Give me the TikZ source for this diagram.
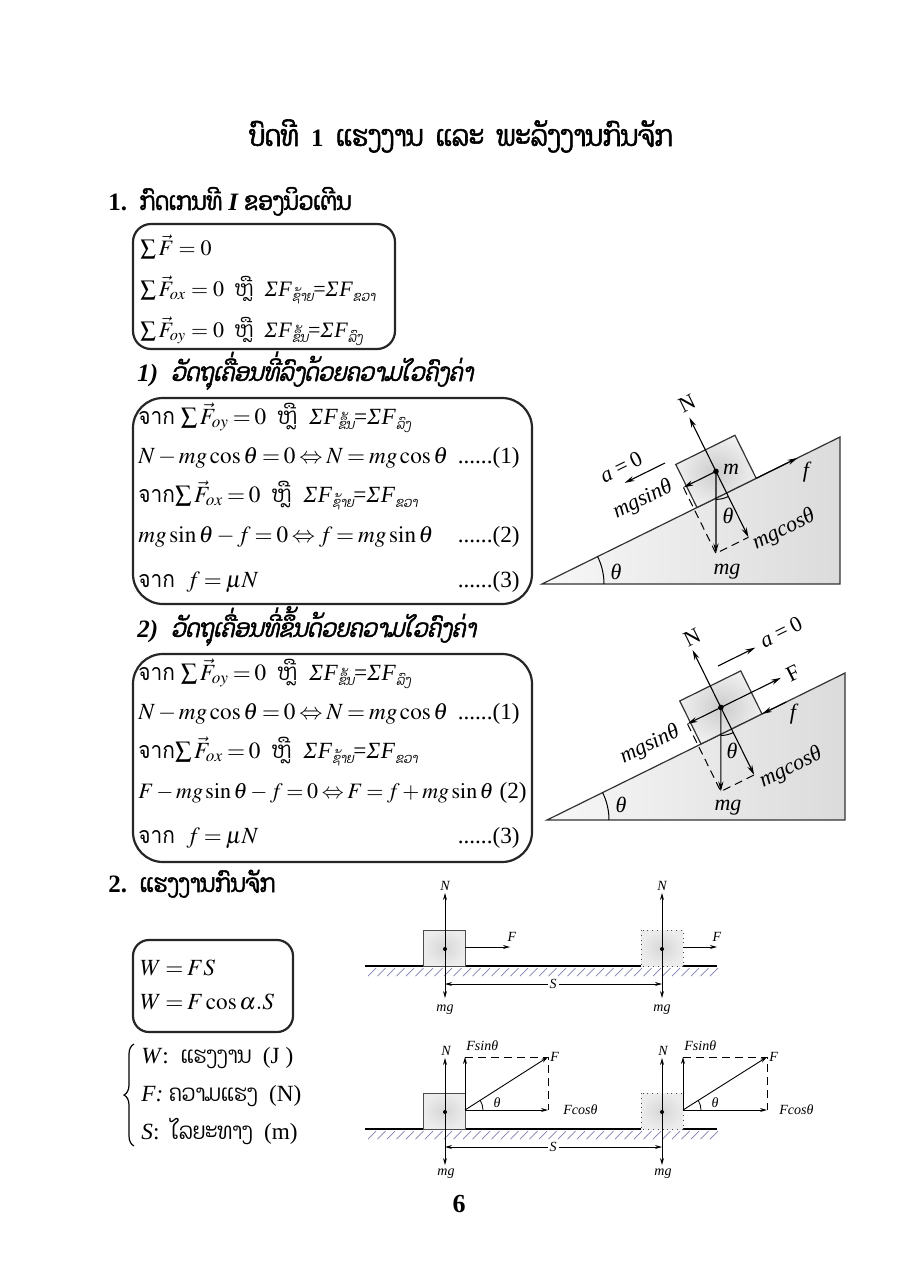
\documentclass[tikz,border=0pt]{standalone}
\usepackage{mathptmx}
\usepackage[no-math]{fontspec}
\setmainfont{Liberation Serif}
\newfontfamily\lao[Script=Lao,FakeStretch=0.86]{Dhyana}
\newfontfamily\laosl[Script=Lao,FakeSlant=0.2,FakeStretch=0.86]{Dhyana}
\newfontfamily\laob[Script=Lao,FakeBold=2,FakeStretch=0.85]{Dhyana}
\newfontfamily\laobi[Script=Lao,FakeSlant=0.22,FakeBold=2,FakeStretch=0.85]{Dhyana}
\newfontfamily\thai[Script=Thai,FakeStretch=0.9]{Loma}
\usetikzlibrary{arrows.meta,decorations.pathreplacing,shadings}
\newcommand\fs[1]{\fontsize{#1}{#1}\selectfont}
\newcommand\tightm{\thickmuskip=3mu plus 1mu\medmuskip=2.2mu plus 1mu}
\newcommand\LS[1]{\textit{Σ}\kern0.3pt\textit{F}\raisebox{-0.5ex}{\laosl\fs{7}#1}}
\tikzset{
  txt/.style={anchor=base west,inner sep=0pt,font=\fs{11.6}\tightm},
  txtr/.style={anchor=base east,inner sep=0pt,font=\fs{11.6}},
  bx/.style={draw=black!85,line width=1.1pt},
  va/.style={-{Stealth[length=5pt,width=2.6pt]},line width=0.55pt},
  vs/.style={-{Stealth[length=3.5pt,width=2pt]},line width=0.45pt},
  vsb/.style={{Stealth[length=3.5pt,width=2pt]}-{Stealth[length=3.5pt,width=2pt]},line width=0.45pt},
  dl/.style={font=\fs{11}\itshape,inner sep=0pt},
  sl/.style={font=\fs{7}\itshape,inner sep=0pt},
  dsh/.style={dash pattern=on 4pt off 2.5pt,line width=0.5pt},
  hat/.style={draw=blue!25!gray!80,line width=0.35pt},
  incl/.style={draw=black!80,line width=0.6pt,left color=gray!6,right color=gray!28},
  blk/.style={draw=black!80,line width=0.6pt,inner color=gray!40,outer color=gray!12},
  sblk/.style={draw=black!70,line width=0.4pt,inner color=gray!32,outer color=gray!15},
}
\begin{document}
\begin{tikzpicture}[x=0.5pt,y=-0.5pt]
\useasboundingbox (0,0) rectangle (920,1280);
\fill[white] (0,0) rectangle (920,1280);

% ---------- headings ----------
\node[anchor=base,inner sep=0pt,font=\fs{14.5}] (title) at (461,146)
  {\laob ບົດທີ\ \ {\rmfamily\bfseries\fs{12.5}1}\ \ ແຮງງານ\ \ ແລະ\ \ ພະລັງງານກົນຈັກ};
\node[txt,font=\fs{12.5}] (h1) at (108,210)
  {{\bfseries 1.}\ \ {\laob ກົດເກນທີ} {\bfseries\itshape I} {\laob ຂອງນິວເຕີນ}};
\node[txt,font=\fs{12.5}] (h11) at (137,381)
  {{\bfseries\itshape 1)}\ \ {\laobi ວັດຖຸເຄື່ອນທີ່ລົງດ້ວຍຄວາມໄວຄົງຄ່າ}};
\node[txt,font=\fs{12.5}] (h12) at (137,637)
  {{\bfseries\itshape 2)}\ \ {\laobi ວັດຖຸເຄື່ອນທີ່ຂຶ້ນດ້ວຍຄວາມໄວຄົງຄ່າ}};
\node[txt,font=\fs{12.5}] (h2) at (108,892)
  {{\bfseries 2.}\ \ {\laob ແຮງງານກົນຈັກ}};
\node[anchor=base,inner sep=0pt,font=\fs{13}\bfseries] (pg) at (459,1212) {6};

% ---------- box 1 ----------
\draw[bx,rounded corners=9pt] (133,224) rectangle (395,349);
\node[txt,font=\fs{11}] (b1a) at (140,255) {$\sum\vec{F}=0$};
\node[txt,font=\fs{11}] (b1b) at (140,296) {$\sum\vec{F}_{ox}=0$\ \ {\lao ຫຼື}\ \ \LS{ຊ້າຍ}=\LS{ຂວາ}};
\node[txt,font=\fs{11}] (b1c) at (140,337) {$\sum\vec{F}_{oy}=0$\ \ {\lao ຫຼື}\ \ \LS{ຂຶ້ນ}=\LS{ລົງ}};

% ---------- box 2 ----------
\draw[bx,rounded corners=15pt] (133,398) rectangle (532,604);
\node[txt] (b2a) at (138,424) {{\thai จาก} $\sum\vec{F}_{oy}=0$\ \ {\lao ຫຼື}\ \ \LS{ຂຶ້ນ}=\LS{ລົງ}};
\node[txt] (b2b) at (138,463) {$N-mg\cos\theta=0\Leftrightarrow N=mg\cos\theta$};
\node[txtr] (b2bn) at (520,463) {......(1)};
\node[txt] (b2c) at (138,502) {{\thai จาก}$\sum\vec{F}_{ox}=0$\ \ {\lao ຫຼື}\ \ \LS{ຊ້າຍ}=\LS{ຂວາ}};
\node[txt] (b2d) at (138,542) {$mg\sin\theta-f=0\Leftrightarrow f=mg\sin\theta$};
\node[txtr] (b2dn) at (520,542) {......(2)};
\node[txt] (b2e) at (138,587) {{\thai จาก}\ \ $f=\mu N$};
\node[txtr] (b2en) at (520,587) {......(3)};

% ---------- box 3 ----------
\draw[bx,rounded corners=15pt] (133,654) rectangle (532,862);
\node[txt] (b3a) at (138,680) {{\thai จาก} $\sum\vec{F}_{oy}=0$\ \ {\lao ຫຼື}\ \ \LS{ຂຶ້ນ}=\LS{ລົງ}};
\node[txt] (b3b) at (138,719) {$N-mg\cos\theta=0\Leftrightarrow N=mg\cos\theta$};
\node[txtr] (b3bn) at (520,719) {......(1)};
\node[txt] (b3c) at (138,758) {{\thai จาก}$\sum\vec{F}_{ox}=0$\ \ {\lao ຫຼື}\ \ \LS{ຊ້າຍ}=\LS{ຂວາ}};
\node[txt,font=\fs{11}\tightm] (b3d) at (138,798) {$F-mg\sin\theta-f=0\Leftrightarrow F=f+mg\sin\theta$};
\node[txtr] (b3dn) at (527,798) {(2)};
\node[txt] (b3e) at (138,843) {{\thai จาก}\ \ $f=\mu N$};
\node[txtr] (b3en) at (520,843) {......(3)};

% ---------- box 4 and legend ----------
\draw[bx,rounded corners=8pt] (133,940) rectangle (293,1032);
\node[txt] (b4a) at (140,975) {$W=FS$};
\node[txt] (b4b) at (140,1009) {$W=F\cos\alpha.S$};
\draw[line width=0.6pt,decorate,decoration={brace,amplitude=5pt}] (134,1146) -- (134,1044);
\node[txt] (lg1) at (141,1063) {\textit{W}:\ \ {\lao ແຮງງານ}\ \ (J )};
\node[txt] (lg2) at (141,1101) {\textit{F:}\ {\lao ຄວາມແຮງ}\ \ (N)};
\node[txt] (lg3) at (141,1139) {\textit{S}:\ \ {\lao ໄລຍະທາງ}\ \ (m)};

% ---------- incline diagram 1 ----------
\coordinate (A1) at (542,584); \coordinate (B1) at (840,584); \coordinate (C1) at (840,437);
\draw[incl] (A1) -- (B1) -- (C1) -- cycle;
\begin{scope}[shift={(697,507.5)},rotate=26.26]
  \coordinate (d1bl) at (0,0); \coordinate (d1br) at (66,0);
  \coordinate (d1tr) at (66,-48); \coordinate (d1tl) at (0,-48);
  \coordinate (d1c) at (33,-24); \coordinate (d1N) at (33,-84);
  \coordinate (d1mc) at (33,49.5); \coordinate (d1ms) at (-3.3,-24);
  \coordinate (d1mg) at (-3.3,49.5); \coordinate (d1f) at (112,0);
\end{scope}
\draw[blk] (d1bl) -- (d1br) -- (d1tr) -- (d1tl) -- cycle;
\draw[va] (d1c) -- (d1N);
\draw[va] (d1c) -- (d1mc);
\draw[va] (d1c) -- (d1ms);
\draw[va] (d1c) -- (d1mg);
\draw[dsh] (d1ms) -- (d1mg) -- (d1mc);
\draw[va] (d1br) -- (d1f);
\fill (d1c) circle (1.4pt);
\draw[line width=0.5pt,shift={(d1c)}] (63.74:28) arc[start angle=63.74,end angle=90,radius=28];
\draw[line width=0.5pt,shift={(A1)}] (0:62) arc[start angle=0,end angle=-26.26,radius=62];
\coordinate (d1a0) at (665,463); \coordinate (d1a1) at (624.6,482.9);
\draw[va] (d1a0) -- (d1a1);
\node[dl,rotate=26.26] (d1al) at (621,467) {a\,=\,\upshape 0};
\node[dl,rotate=26.26] (d1Nl) at (687,404) {\upshape N};
\node[dl] (d1ml) at (731,469) {m};
\node[dl,rotate=26.26] (d1msl) at (643,500) {mgsinθ};
\node[dl,rotate=26.26] (d1mcl) at (784,530) {mgcosθ};
\node[dl] (d1mgl) at (727,572) {mg};
\node[dl] (d1tl2) at (728,516) {θ};
\node[dl] (d1ta) at (616,572) {θ};
\node[dl] (d1fl) at (806,472) {f};

% ---------- incline diagram 2 ----------
\coordinate (A2) at (547,820); \coordinate (B2) at (845,820); \coordinate (C2) at (845,673);
\draw[incl] (A2) -- (B2) -- (C2) -- cycle;
\begin{scope}[shift={(701,744)},rotate=26.26]
  \coordinate (d2bl) at (0,0); \coordinate (d2br) at (68,0);
  \coordinate (d2tr) at (68,-48); \coordinate (d2tl) at (0,-48);
  \coordinate (d2c) at (34,-24); \coordinate (d2N) at (34,-88);
  \coordinate (d2mc) at (34,51.3); \coordinate (d2ms) at (-3.2,-24);
  \coordinate (d2mg) at (-3.2,51.3); \coordinate (d2F) at (101,-24);
  \coordinate (d2f0) at (95,0);
\end{scope}
\draw[blk] (d2bl) -- (d2br) -- (d2tr) -- (d2tl) -- cycle;
\draw[va] (d2c) -- (d2N);
\draw[va] (d2c) -- (d2mc);
\draw[va] (d2c) -- (d2ms);
\draw[va] (d2c) -- (d2mg);
\draw[va] (d2c) -- (d2F);
\draw[dsh] (d2ms) -- (d2mg) -- (d2mc);
\draw[va] (d2f0) -- (d2br);
\fill (d2c) circle (1.4pt);
\draw[line width=0.5pt,shift={(d2c)}] (63.74:28) arc[start angle=63.74,end angle=90,radius=28];
\draw[line width=0.5pt,shift={(A2)}] (0:62) arc[start angle=0,end angle=-26.26,radius=62];
\coordinate (d2a0) at (718,666); \coordinate (d2a1) at (755.3,647.6);
\draw[va] (d2a0) -- (d2a1);
\node[dl,rotate=26.26] (d2al) at (781,632) {a\,=\,\upshape 0};
\node[dl,rotate=26.26] (d2Nl) at (692,638) {\upshape N};
\node[dl,rotate=26.26] (d2Fl) at (793,673) {\upshape F};
\node[dl] (d2fl) at (793,714) {f};
\node[dl,rotate=26.26] (d2msl) at (650,745) {mgsinθ};
\node[dl,rotate=26.26] (d2mcl) at (791,768) {mgcosθ};
\node[dl] (d2mgl) at (728,808) {mg};
\node[dl] (d2tl2) at (732,751) {θ};
\node[dl] (d2ta) at (621,805) {θ};

% ---------- work diagram (top) ----------
\draw[line width=1.2pt] (365,966) -- (717,966);
\foreach \x in {368,377.5,...,712} \draw[hat] (\x,976) -- (\x+8,968);
\draw[sblk] (423,930) rectangle (465,966);
\draw[sblk,dotted] (641,930) rectangle (683,966);
\coordinate (w1c) at (445,949); \coordinate (w2c) at (662,949);
\coordinate (w1N) at (445,893); \coordinate (w1m) at (445,998);
\coordinate (w2N) at (662,893); \coordinate (w2m) at (662,998);
\draw[vs] (w1c) -- (w1N); \draw[vs] (w1c) -- (w1m);
\draw[vs] (w2c) -- (w2N); \draw[vs] (w2c) -- (w2m);
\fill (w1c) circle (1pt); \fill (w2c) circle (1pt);
\coordinate (w1F0) at (465,947); \coordinate (w1F1) at (510,947);
\coordinate (w2F0) at (683,947); \coordinate (w2F1) at (717,947);
\draw[vs] (w1F0) -- (w1F1); \draw[vs] (w2F0) -- (w2F1);
\coordinate (wS0) at (445,984); \coordinate (wS1) at (662,984);
\draw[vsb] (wS0) -- (wS1);
\node[sl,fill=white,inner sep=1pt] (wSl) at (553,984) {S};
\node[sl] (w1Nl) at (445,886) {N};
\node[sl] (w2Nl) at (662,886) {N};
\node[sl] (w1ml) at (445,1010) {mg};
\node[sl] (w2ml) at (662,1010) {mg};
\node[sl] (w1Fl) at (512,937) {F};
\node[sl] (w2Fl) at (717,937) {F};

% ---------- work diagram (bottom) ----------
\draw[line width=1.2pt] (365,1129) -- (717,1129);
\foreach \x in {368,377.5,...,712} \draw[hat] (\x,1139) -- (\x+8,1131);
\draw[sblk] (423,1093) rectangle (465,1129);
\draw[sblk,dotted] (641,1093) rectangle (683,1129);
\coordinate (v1c) at (445,1112); \coordinate (v2c) at (662,1112);
\coordinate (v1N) at (445,1058); \coordinate (v1m) at (445,1165);
\coordinate (v2N) at (662,1058); \coordinate (v2m) at (662,1165);
\draw[vs] (v1c) -- (v1N); \draw[vs] (v1c) -- (v1m);
\draw[vs] (v2c) -- (v2N); \draw[vs] (v2c) -- (v2m);
\fill (v1c) circle (1pt); \fill (v2c) circle (1pt);
\coordinate (o1) at (465,1110); \coordinate (o1s) at (465,1057);
\coordinate (o1c) at (548,1110); \coordinate (o1f) at (548,1057);
\draw[vs] (o1) -- (o1s); \draw[vs] (o1) -- (o1c); \draw[vs] (o1) -- (o1f);
\draw[dsh,line width=0.4pt] (o1s) -- (o1f) -- (o1c);
\draw[line width=0.4pt,shift={(o1)}] (0:18) arc[start angle=0,end angle=-32.6,radius=18];
\coordinate (o2) at (683,1110); \coordinate (o2s) at (683,1057);
\coordinate (o2c) at (767,1110); \coordinate (o2f) at (767,1057);
\draw[vs] (o2) -- (o2s); \draw[vs] (o2) -- (o2c); \draw[vs] (o2) -- (o2f);
\draw[dsh,line width=0.4pt] (o2s) -- (o2f) -- (o2c);
\draw[line width=0.4pt,shift={(o2)}] (0:18) arc[start angle=0,end angle=-32.3,radius=18];
\coordinate (vS0) at (445,1147); \coordinate (vS1) at (662,1147);
\draw[vsb] (vS0) -- (vS1);
\node[sl,fill=white,inner sep=1pt] (vSl) at (553,1147) {S};
\node[sl] (v1Nl) at (446,1051) {N};
\node[sl] (v2Nl) at (663,1051) {N};
\node[sl] (v1ml) at (446,1174) {mg};
\node[sl] (v2ml) at (663,1174) {mg};
\node[sl,anchor=west] (o1sl) at (466,1046) {Fsinθ};
\node[sl,anchor=west] (o2sl) at (684,1046) {Fsinθ};
\node[sl,anchor=west] (o1fl) at (550,1057) {F};
\node[sl,anchor=west] (o2fl) at (769,1057) {F};
\node[sl,anchor=west] (o1cl) at (563,1110) {Fcosθ};
\node[sl,anchor=west] (o2cl) at (779,1110) {Fcosθ};
\node[sl] (o1tl) at (497,1103) {θ};
\node[sl] (o2tl) at (715,1103) {θ};
\end{tikzpicture}
\end{document}
